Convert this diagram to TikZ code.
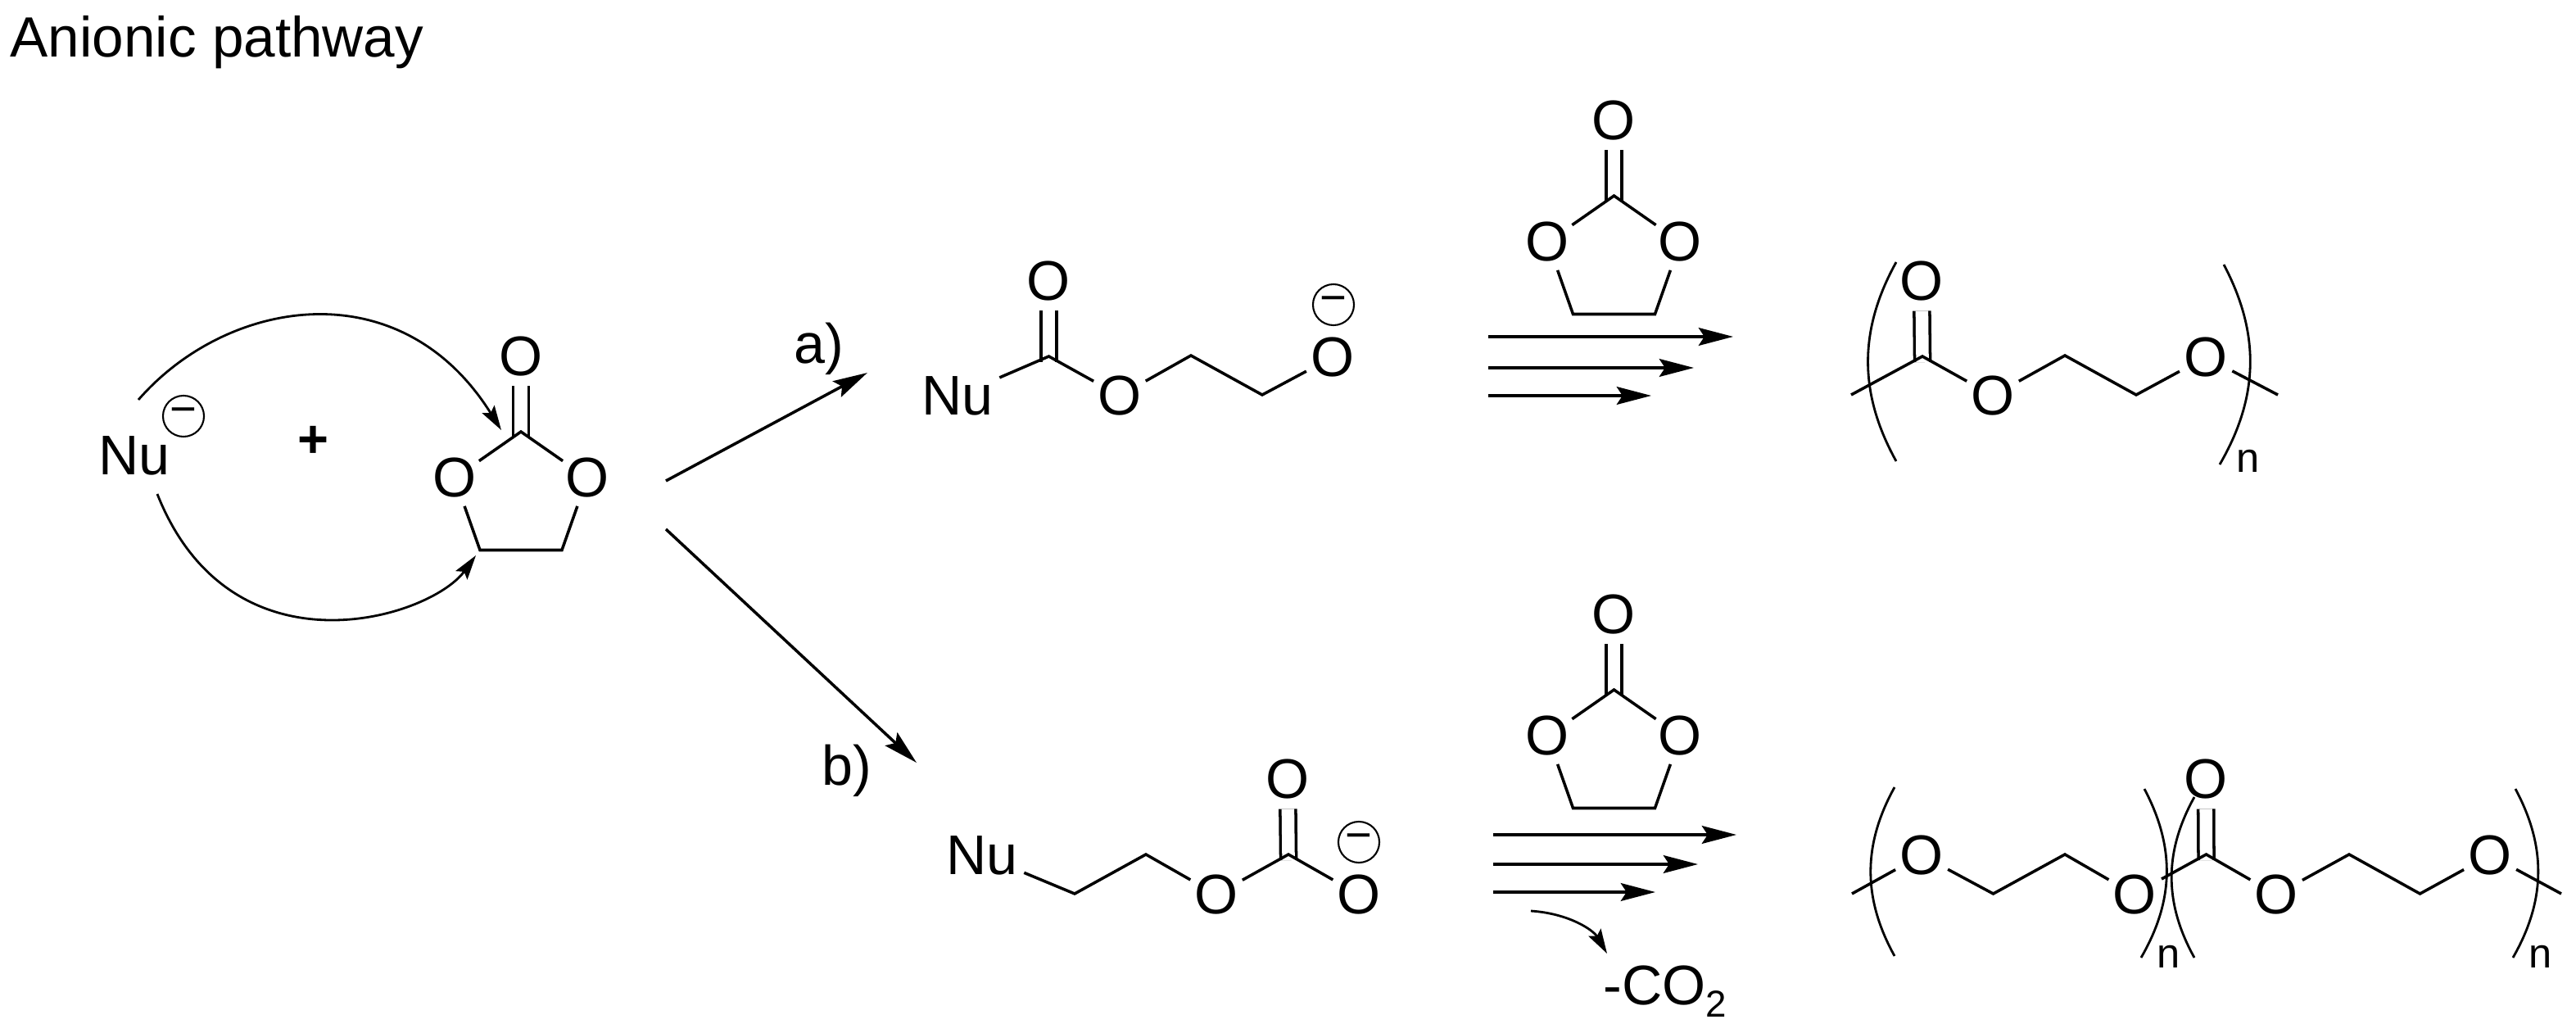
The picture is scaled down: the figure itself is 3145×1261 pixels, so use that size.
\documentclass[tikz,border=0pt]{standalone}
\usepackage{fontspec}
\setmainfont{Liberation Sans}
\usetikzlibrary{arrows.meta}
\begin{document}
\begin{tikzpicture}[x=0.01cm,y=-0.01cm]
	\tikzstyle{every node}=[font=\fontsize{19.4}{21}\selectfont]
	\tikzstyle{atom}=[circle,inner sep=0pt,minimum size=0.7cm]
	\tikzstyle{group}=[inner sep=0.07cm]
	\tikzstyle{charge}=[circle,draw,line width=0.6pt,inner sep=0pt,minimum size=0.5cm,font=\fontsize{16}{16}\selectfont]
	\tikzstyle{bond}=[line width=1pt]
	\tikzstyle{dbond}=[line width=1pt,double,double distance=0.155cm,shorten >=-2pt]
	\tikzstyle{paren}=[line width=0.8pt]
	\tikzstyle{rep}=[font=\fontsize{14.4}{16}\selectfont,inner sep=0pt,anchor=base]
	\tikzstyle{rxn}=[line width=1pt,-{Stealth[length=12pt,width=6.2pt,inset=2pt]}]
	\tikzstyle{curly}=[line width=0.8pt,-{Stealth[length=8.5pt,width=5pt,inset=1.5pt]}]
	\useasboundingbox (0,0) rectangle (3145,1261);
	
	\node [font=\fontsize{19.7}{22}\selectfont,anchor=base west,inner sep=0pt] (title) at (12,70) {Anionic pathway};
	
	% monomer with the nucleophile
	\node [group] (nu1) at (164,556) {Nu};
	\node [charge] (neg1) at (224,508) {−};
	\node [font=\fontsize{18.5}{20}\selectfont\bfseries] (plus) at (382,539) {+};
	\begin{scope}[shift={(636,527)}]
	\coordinate (ecl-c1) at (0,0);
	\coordinate (ecl-c2) at (-50,144.5);
	\coordinate (ecl-c3) at (50,144.5);
	\node [atom] (ecl-o1) at (0,-92) {O};
	\node [atom] (ecl-o2) at (-81,56.5) {O};
	\node [atom] (ecl-o3) at (81,56.5) {O};
	\draw [dbond] (ecl-o1) -- (ecl-c1);
	\draw [bond] (ecl-o2) -- (ecl-c1) -- (ecl-o3);
	\draw [bond] (ecl-o2) -- (ecl-c2) -- (ecl-c3) -- (ecl-o3);
	\end{scope}
	
	\coordinate (up1) at (169,488);
	\coordinate (up2) at (612,525);
	\coordinate (lo1) at (192,603);
	\coordinate (lo2) at (581,678);
	\draw [curly] (up1) .. controls (277,364) and (489,328) .. (up2);
	\draw [curly] (lo1) .. controls (282,830) and (525,755) .. (lo2);
	
	% the two routes
	\coordinate (ra1) at (813,587);
	\coordinate (ra2) at (1059,455);
	\coordinate (rb1) at (813,646);
	\coordinate (rb2) at (1119,931);
	\draw [rxn] (ra1) -- (ra2);
	\draw [rxn] (rb1) -- (rb2);
	\node (la) at (1000,426) {a)};
	\node (lb) at (1034,941) {b)};
	
	% route a, intermediate
	\node [group] (nu2) at (1169,483) {Nu};
	\coordinate (a-c1) at (1280.5,435);
	\coordinate (a-c2) at (1454,434);
	\coordinate (a-c3) at (1541,482);
	\node [atom] (a-o1) at (1280.5,343) {O};
	\node [atom] (a-o2) at (1367,483) {O};
	\node [atom] (a-o3) at (1627,436) {O};
	\node [charge] (neg2) at (1628,372) {−};
	\draw [dbond] (a-o1) -- (a-c1);
	\draw [bond] (nu2) -- (a-c1) -- (a-o2) -- (a-c2) -- (a-c3) -- (a-o3);
	
	% route a, carbonate over the arrows
	\begin{scope}[shift={(1970.5,239)}]
	\coordinate (ect-c1) at (0,0);
	\coordinate (ect-c2) at (-50,144.5);
	\coordinate (ect-c3) at (50,144.5);
	\node [atom] (ect-o1) at (0,-92) {O};
	\node [atom] (ect-o2) at (-81,56.5) {O};
	\node [atom] (ect-o3) at (81,56.5) {O};
	\draw [dbond] (ect-o1) -- (ect-c1);
	\draw [bond] (ect-o2) -- (ect-c1) -- (ect-o3);
	\draw [bond] (ect-o2) -- (ect-c2) -- (ect-c3) -- (ect-o3);
	\end{scope}
	
	\coordinate (s1) at (1817,411);
	\coordinate (e1) at (2116,411);
	\coordinate (s2) at (1817,449);
	\coordinate (e2) at (2068,449);
	\coordinate (s3) at (1817,483);
	\coordinate (e3) at (2016,483);
	\draw [rxn] (s1) -- (e1);
	\draw [rxn] (s2) -- (e2);
	\draw [rxn] (s3) -- (e3);
	
	% route a, polymer
	\coordinate (pa-t1) at (2260,482);
	\coordinate (pa-c1) at (2347,435);
	\coordinate (pa-c2) at (2521,434);
	\coordinate (pa-c3) at (2608,482);
	\coordinate (pa-t2) at (2781,482);
	\node [atom] (pa-o1) at (2346,343) {O};
	\node [atom] (pa-o2) at (2433,483) {O};
	\node [atom] (pa-o3) at (2693,436) {O};
	\draw [dbond] (pa-o1) -- (pa-c1);
	\draw [bond] (pa-t1) -- (pa-c1) -- (pa-o2) -- (pa-c2) -- (pa-c3) -- (pa-o3) -- (pa-t2);
	\coordinate (pa-l1) at (2315,320);
	\coordinate (pa-l2) at (2315,563);
	\coordinate (pa-r1) at (2715,323);
	\coordinate (pa-r2) at (2710,567);
	\draw [paren] (pa-l1) to [bend right=29] (pa-l2);
	\draw [paren] (pa-r1) to [bend left=29] (pa-r2);
	\node [rep] (pa-n) at (2745,577) {n};
	
	% route b, intermediate
	\node [group] (nu3) at (1199,1044) {Nu};
	\coordinate (b-c1) at (1312,1091);
	\coordinate (b-c2) at (1399,1043);
	\coordinate (b-c3) at (1573,1043);
	\node [atom] (b-o1) at (1485,1092) {O};
	\node [atom] (b-o2) at (1572,951) {O};
	\node [atom] (b-o3) at (1659,1092) {O};
	\node [charge] (neg3) at (1659,1028) {−};
	\draw [dbond] (b-o2) -- (b-c3);
	\draw [bond] (nu3) -- (b-c1) -- (b-c2) -- (b-o1) -- (b-c3) -- (b-o3);
	
	% route b, carbonate over the arrows
	\begin{scope}[shift={(1970.5,842)}]
	\coordinate (ecb-c1) at (0,0);
	\coordinate (ecb-c2) at (-50,144.5);
	\coordinate (ecb-c3) at (50,144.5);
	\node [atom] (ecb-o1) at (0,-92) {O};
	\node [atom] (ecb-o2) at (-81,56.5) {O};
	\node [atom] (ecb-o3) at (81,56.5) {O};
	\draw [dbond] (ecb-o1) -- (ecb-c1);
	\draw [bond] (ecb-o2) -- (ecb-c1) -- (ecb-o3);
	\draw [bond] (ecb-o2) -- (ecb-c2) -- (ecb-c3) -- (ecb-o3);
	\end{scope}
	
	\coordinate (s4) at (1823,1019);
	\coordinate (e4) at (2120,1019);
	\coordinate (s5) at (1823,1055);
	\coordinate (e5) at (2073,1055);
	\coordinate (s6) at (1823,1089);
	\coordinate (e6) at (2021,1089);
	\draw [rxn] (s4) -- (e4);
	\draw [rxn] (s5) -- (e5);
	\draw [rxn] (s6) -- (e6);
	\coordinate (co1) at (1869,1112);
	\coordinate (co2) at (1962,1164);
	\draw [curly] (co1) .. controls (1915,1115) and (1945,1135) .. (co2);
	\node [anchor=base west,inner sep=0pt] (co) at (1957,1226) {-CO\raisebox{-0.22em}{\fontsize{13}{13}\selectfont 2}};
	
	% route b, polymer
	\coordinate (pb-t1) at (2261,1091);
	\coordinate (pb-c1) at (2433.5,1091);
	\coordinate (pb-c2) at (2521,1043);
	\coordinate (pb-t2) at (2639,1073);
	\coordinate (pb-c3) at (2693.5,1043);
	\coordinate (pb-c4) at (2868,1043);
	\coordinate (pb-c5) at (2954.5,1091);
	\coordinate (pb-t3) at (3127,1091);
	\node [atom] (pb-o1) at (2346,1044) {O};
	\node [atom] (pb-o2) at (2606,1092) {O};
	\node [atom] (pb-o3) at (2693,951) {O};
	\node [atom] (pb-o4) at (2779,1092) {O};
	\node [atom] (pb-o5) at (3040,1044) {O};
	\draw [bond] (pb-t1) -- (pb-o1) -- (pb-c1) -- (pb-c2) -- (pb-o2);
	\draw [dbond] (pb-o3) -- (pb-c3);
	\draw [bond] (pb-t2) -- (pb-c3) -- (pb-o4) -- (pb-c4) -- (pb-c5) -- (pb-o5) -- (pb-t3);
	\coordinate (pb-l1) at (2313,961);
	\coordinate (pb-l2) at (2313,1167);
	\coordinate (pb-m1) at (2618,963);
	\coordinate (pb-m2) at (2614,1169);
	\coordinate (pb-m3) at (2679,973);
	\coordinate (pb-m4) at (2679,1169);
	\coordinate (pb-r1) at (3071,963);
	\coordinate (pb-r2) at (3068,1169);
	\draw [paren] (pb-l1) to [bend right=29] (pb-l2);
	\draw [paren] (pb-m1) to [bend left=29] (pb-m2);
	\draw [paren] (pb-m3) to [bend right=29] (pb-m4);
	\draw [paren] (pb-r1) to [bend left=29] (pb-r2);
	\node [rep] (pb-n1) at (2648,1181) {n};
	\node [rep] (pb-n2) at (3102,1181) {n};
\end{tikzpicture}
\end{document}
